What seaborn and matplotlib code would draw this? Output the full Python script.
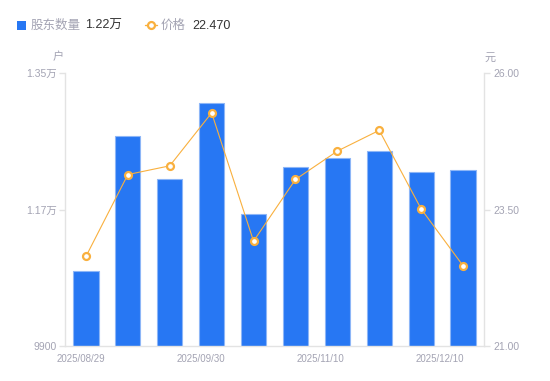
import matplotlib
matplotlib.use("Agg")
import matplotlib.pyplot as plt
from matplotlib.patches import Rectangle
from matplotlib.lines import Line2D
import seaborn as sns
import numpy as np
import pandas as pd

# data
dates = ["2025/08/29", "2025/09/10", "2025/09/19", "2025/09/30", "2025/10/20",
         "2025/10/31", "2025/11/10", "2025/11/20", "2025/11/28", "2025/12/10"]
holders = [10890, 12670, 12100, 13110, 11640, 12260, 12375, 12470, 12195, 12220]
price = [22.64, 24.14, 24.30, 25.27, 22.92, 24.05, 24.57, 24.95, 23.51, 22.47]

left_ticks = [9900, 11700, 13500]
left_labels = ["9900", "1.17万", "1.35万"]
right_ticks = [21.0, 23.5, 26.0]
shown_dates = [0, 3, 6, 9]

BLUE = "#2777F3"
EDGE = "#8DB6F7"
ORANGE = "#F9B03E"
GREY = "#A3A3B3"
DARK = "#333333"
AXIS = "#E3E3E3"

df = pd.DataFrame({"date": dates, "holders": holders, "price": price,
                   "pos": np.arange(len(dates))})

sns.set_theme(style="white")
plt.rcParams["font.family"] = ["Liberation Sans", "Noto Sans CJK SC", "DejaVu Sans"]

fig = plt.figure(figsize=(5.5, 3.81), dpi=100)
ax = fig.add_axes([65 / 550, 35 / 381, 419 / 550, 273 / 381])

sns.barplot(data=df, x="pos", y="holders", color=BLUE, width=0.6,
            edgecolor=EDGE, linewidth=0.8, saturation=1, ax=ax)
ax.set_xlim(-0.5, len(dates) - 0.5)
ax.set_ylim(left_ticks[0], left_ticks[-1])
ax.set_yticks(left_ticks)
ax.set_yticklabels(left_labels)
ax.set_xlabel("")
ax.set_ylabel("")

# date labels are spread evenly from left edge to right edge
ax.set_xticks(np.linspace(-0.12, 8.45, len(shown_dates)))
ax.set_xticklabels([dates[i] for i in shown_dates])

ax2 = ax.twinx()
sns.lineplot(data=df, x="pos", y="price", color=ORANGE, linewidth=0.8,
             marker="o", markersize=5, markerfacecolor="white",
             markeredgecolor=ORANGE, markeredgewidth=1.6, ax=ax2)
ax2.set_ylim(right_ticks[0], right_ticks[-1])
ax2.set_yticks(right_ticks)
ax2.set_yticklabels([f"{v:.2f}" for v in right_ticks])
ax2.set_ylabel("")
ax2.set_xlim(-0.5, len(dates) - 0.5)

for a in (ax, ax2):
    for s in a.spines.values():
        s.set_visible(False)
    a.grid(False)
ax.spines["left"].set_visible(True)
ax.spines["bottom"].set_visible(True)
ax2.spines["right"].set_visible(True)
for s in (ax.spines["left"], ax.spines["bottom"], ax2.spines["right"]):
    s.set_color(AXIS)
    s.set_linewidth(1)

ax.tick_params(axis="y", colors=AXIS, labelcolor=GREY, labelsize=7.5,
               length=4, width=1, pad=2, left=True)
ax.tick_params(axis="x", colors=AXIS, labelcolor=GREY, labelsize=7,
               length=0, pad=6)
ax2.tick_params(axis="y", colors=AXIS, labelcolor=GREY, labelsize=7.5,
                length=4, width=1, pad=3, right=True)

# unit labels
fig.text(58 / 550, 1 - 57 / 381, "户", color=GREY, fontsize=8, ha="center", va="center")
fig.text(490 / 550, 1 - 58 / 381, "元", color=GREY, fontsize=8, ha="center", va="center")

# legend row drawn by hand
ly = 1 - 25 / 381
fig.add_artist(Rectangle((17 / 550, 1 - 29.5 / 381), 9 / 550, 9 / 381,
                         transform=fig.transFigure, facecolor=BLUE,
                         edgecolor="none"))
fig.text(31 / 550, ly - 1 / 381, "股东数量", color=GREY, fontsize=9, va="center")
fig.text(85 / 550, ly - 1 / 381, f"{holders[-1] / 10000:.2f}万", color=DARK, fontsize=9, va="center")
fig.add_artist(Line2D([145 / 550, 157 / 550], [ly, ly], transform=fig.transFigure,
                      color=ORANGE, linewidth=1))
fig.add_artist(Line2D([151 / 550], [ly], transform=fig.transFigure, marker="o",
                      markersize=5, markerfacecolor="white", markeredgecolor=ORANGE,
                      markeredgewidth=1.6, linestyle="none"))
fig.text(161 / 550, ly - 1 / 381, "价格", color=GREY, fontsize=9, va="center")
fig.text(192 / 550, ly - 1 / 381, f"{price[-1]:.3f}", color=DARK, fontsize=9, va="center")

fig.savefig("out.png", dpi=100)
